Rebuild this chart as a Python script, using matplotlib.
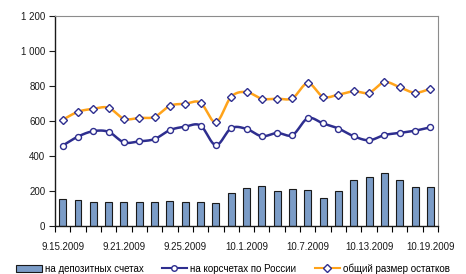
import numpy as np
import matplotlib
matplotlib.use("Agg")
import matplotlib.pyplot as plt
from matplotlib.ticker import FixedLocator, FuncFormatter

plt.rcParams['font.family'] = ['Liberation Sans', 'DejaVu Sans']

dates = ["9.15.2009", "9.16.2009", "9.17.2009", "9.18.2009", "9.21.2009",
         "9.22.2009", "9.23.2009", "9.24.2009", "9.25.2009", "9.28.2009",
         "9.29.2009", "9.30.2009", "10.1.2009", "10.2.2009", "10.5.2009",
         "10.6.2009", "10.7.2009", "10.8.2009", "10.9.2009", "10.12.2009",
         "10.13.2009", "10.14.2009", "10.15.2009", "10.16.2009", "10.19.2009"]

deposits = [151, 145, 133, 133, 133, 133, 133, 139, 133, 133, 128, 185, 214,
            225, 197, 208, 202, 156, 197, 260, 277, 300, 260, 220, 220]

corr_accounts = [457, 509, 540, 536, 476, 482, 495, 546, 566, 572, 460, 557,
                 553, 511, 530, 518, 614, 584, 555, 511, 488, 518, 530, 543, 562]

total = [605, 651, 668, 674, 611, 616, 622, 685, 697, 703, 591, 737, 764, 726,
         726, 729, 815, 737, 749, 768, 760, 821, 791, 760, 783]

labels = ["на депозитных счетах", "на корсчетах по России", "общий размер остатков"]


def smooth(y, n=20):
    # Excel-style smoothed line (Catmull-Rom through the data points)
    y = np.asarray(y, dtype=float)
    x = np.arange(len(y), dtype=float)
    p = np.concatenate([[y[0]], y, [y[-1]]])
    px = np.concatenate([[x[0]], x, [x[-1]]])
    xs, ys = [], []
    t = np.linspace(0, 1, n, endpoint=False)
    for i in range(len(y) - 1):
        p0, p1, p2, p3 = p[i], p[i + 1], p[i + 2], p[i + 3]
        q0, q1, q2, q3 = px[i], px[i + 1], px[i + 2], px[i + 3]
        c1, c2 = p1 + (p2 - p0) / 6, p2 - (p3 - p1) / 6
        d1, d2 = q1 + (q2 - q0) / 6, q2 - (q3 - q1) / 6
        b = [(1 - t) ** 3, 3 * (1 - t) ** 2 * t, 3 * (1 - t) * t ** 2, t ** 3]
        ys.append(b[0] * p1 + b[1] * c1 + b[2] * c2 + b[3] * p2)
        xs.append(b[0] * q1 + b[1] * d1 + b[2] * d2 + b[3] * q2)
    xs.append([x[-1]])
    ys.append([y[-1]])
    return np.concatenate(xs), np.concatenate(ys)


fig = plt.figure(figsize=(4.66, 2.74), dpi=100)
ax = fig.add_axes([0.118, 0.177, 0.822, 0.765])

x = np.arange(len(dates))
bars = ax.bar(x, deposits, width=0.45, color='#7b9cc7', edgecolor='#1a1a1a',
              linewidth=0.8, zorder=2)

navy = '#2e2e8f'
orange = '#ffa31a'

sx, sy = smooth(corr_accounts)
ax.plot(sx, sy, color=navy, lw=1.8, zorder=3)
ax.plot(x, corr_accounts, ls='none', marker='o', ms=4.3, mfc='white',
        mec=navy, mew=1.0, zorder=4)

sx, sy = smooth(total)
ax.plot(sx, sy, color=orange, lw=1.8, zorder=3)
ax.plot(x, total, ls='none', marker='D', ms=4.0, mfc='white',
        mec=navy, mew=1.0, zorder=4)

ax.set_xlim(-0.5, len(dates) - 0.5)
ax.set_ylim(0, 1200)

ax.yaxis.set_major_locator(FixedLocator(range(0, 1201, 200)))
ax.yaxis.set_major_formatter(FuncFormatter(lambda v, p: f"{int(v):,}".replace(",", " ")))
ax.tick_params(axis='y', direction='out', length=4, width=0.8, labelsize=7,
               colors='#1a1a1a', pad=3)

ax.set_xticks(x[::4])
ax.set_xticklabels(dates[::4])
ax.set_xticks(np.arange(-0.5, len(dates), 1), minor=True)
ax.tick_params(axis='x', which='major', length=0, labelsize=7,
               colors='#1a1a1a', pad=12)
ax.tick_params(axis='x', which='minor', direction='out', length=4, width=0.8)

for s in ['top', 'right']:
    ax.spines[s].set_color('#8c8c8c')
    ax.spines[s].set_linewidth(0.8)
for s in ['left', 'bottom']:
    ax.spines[s].set_color('#1a1a1a')
    ax.spines[s].set_linewidth(1.0)

h1 = plt.Rectangle((0, 0), 1, 1, facecolor='#7b9cc7', edgecolor='#1a1a1a', linewidth=0.8)
h2 = plt.Line2D([], [], color=navy, lw=1.5, marker='o', ms=4, mfc='white', mec=navy)
h3 = plt.Line2D([], [], color=orange, lw=1.5, marker='D', ms=3.8, mfc='white', mec=navy)
fig.legend([h1, h2, h3], labels, loc='center', bbox_to_anchor=(0.5, 0.02),
           ncol=3, frameon=False, fontsize=7, handlelength=2.6,
           handletextpad=0.3, columnspacing=1.9, borderaxespad=0)

fig.savefig("out.png", dpi=100)
